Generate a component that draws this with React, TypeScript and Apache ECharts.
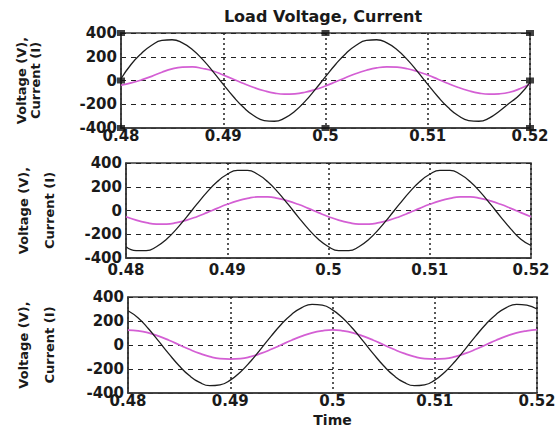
import React, { useEffect, useRef } from "react";
import * as echarts from "echarts";

// Time samples (s)
const time = [
  0.48, 0.481, 0.482, 0.483, 0.484, 0.485, 0.486, 0.487, 0.488, 0.489,
  0.49, 0.491, 0.492, 0.493, 0.494, 0.495, 0.496, 0.497, 0.498, 0.499,
  0.5, 0.501, 0.502, 0.503, 0.504, 0.505, 0.506, 0.507, 0.508, 0.509,
  0.51, 0.511, 0.512, 0.513, 0.514, 0.515, 0.516, 0.517, 0.518, 0.519, 0.52,
];

// Panel 1
const voltage1 = [
  15, 137, 228, 297, 337, 343, 317, 259, 176, 75,
  -32, -137, -228, -297, -337, -343, -317, -259, -176, -75,
  32, 137, 228, 297, 337, 343, 317, 259, 176, 75,
  -32, -137, -228, -297, -337, -343, -317, -259, -190, -120, -15,
];
const current1 = [
  -40, -20, 5, 35, 70, 98, 112, 114, 101, 80,
  46, 11, -25, -59, -86, -106, -115, -112, -99, -76,
  -46, -11, 25, 59, 86, 106, 115, 112, 99, 76,
  46, 11, -25, -59, -86, -106, -115, -112, -99, -70, -30,
];

// Panel 2
const voltage2 = [
  -305, -338, -338, -305, -242, -155, -53, 53, 155, 242,
  305, 338, 338, 305, 242, 155, 53, -53, -155, -242,
  -305, -338, -338, -305, -242, -155, -53, 53, 155, 242,
  305, 338, 338, 305, 242, 155, 53, -53, -155, -242, -295,
];
const current2 = [
  -52, -81, -102, -114, -114, -102, -81, -52, -18, 18,
  52, 81, 102, 114, 114, 102, 81, 52, 18, -18,
  -52, -81, -102, -114, -114, -102, -81, -52, -18, 18,
  52, 81, 102, 114, 114, 102, 81, 52, 18, -18, -52,
];

// Panel 3
const voltage3 = [
  285, 225, 135, 32, -74, -173, -255, -312, -339, -332,
  -293, -225, -135, -32, 74, 173, 255, 312, 339, 332,
  293, 225, 135, 32, -74, -173, -255, -312, -339, -332,
  -293, -225, -135, -32, 74, 173, 255, 312, 339, 332, 300,
];
const current3 = [
  124, 118, 101, 74, 40, 2, -36, -70, -97, -114,
  -118, -114, -97, -70, -36, 2, 40, 74, 101, 118,
  126, 118, 101, 74, 40, 2, -36, -70, -97, -114,
  -118, -114, -97, -70, -36, 2, 40, 74, 101, 118, 128,
];

// Selection handles drawn on the first panel
const handleX = [0.48, 0.48, 0.48, 0.5, 0.5, 0.52, 0.52, 0.52];
const handleY = [400, 0, -400, 400, -400, 400, 0, -400];

const yTicks = { min: -400, max: 400, interval: 200 };
const xTicks = { min: 0.48, max: 0.52, interval: 0.01 };

const titleText = "Load Voltage, Current";
const yName = "Voltage (V),\nCurrent (I)";
const xName = "Time";

const FONT = "DejaVu Sans";

export default function App() {
  const ref = useRef<HTMLDivElement>(null);

  useEffect(() => {
    if (!ref.current) return;
    const chart = echarts.init(ref.current, undefined, { renderer: "svg" });

    const grids = [
      { left: 121, top: 33, width: 409, height: 95 },
      { left: 126, top: 163, width: 405, height: 95 },
      { left: 128, top: 297, width: 409, height: 96 },
    ];
    const nameGaps = [79, 64, 66];
    const nameLH = [14, 26, 26];
    const xLabelMargins = [0, 4, 0];

    const pair = (ys: number[]) => time.map((t, i) => [t, ys[i]]);
    const panels = [
      [voltage1, current1],
      [voltage2, current2],
      [voltage3, current3],
    ];

    const series: any[] = [];
    panels.forEach(([v, c], i) => {
      series.push({
        type: "line",
        xAxisIndex: i,
        yAxisIndex: i,
        data: pair(v),
        smooth: true,
        showSymbol: false,
        lineStyle: { color: "#1e1e1e", width: 1.3 },
        z: 3,
      });
      series.push({
        type: "line",
        xAxisIndex: i,
        yAxisIndex: i,
        data: pair(c),
        smooth: true,
        showSymbol: false,
        lineStyle: { color: "#d45fd4", width: 1.7 },
        z: 2,
      });
    });
    series.push({
      type: "scatter",
      xAxisIndex: 0,
      yAxisIndex: 0,
      data: handleX.map((x, i) => [x, handleY[i]]),
      symbol: "rect",
      symbolSize: [8, 6],
      itemStyle: { color: "#111" },
      z: 10,
    });

    chart.setOption({
      animation: false,
      backgroundColor: "#fff",
      graphic: [
        {
          type: "text",
          x: 323,
          y: 16,
          style: {
            text: titleText,
            fontFamily: FONT,
            fontSize: 16,
            fontWeight: "bold",
            fill: "#1a1a1a",
            textAlign: "center",
            textVerticalAlign: "middle",
          },
        },
      ],
      grid: grids.map((g) => ({
        ...g,
        show: true,
        borderColor: "#3a3a3a",
        borderWidth: 1.5,
        backgroundColor: "transparent",
      })),
      xAxis: grids.map((_, i) => ({
        type: "value",
        gridIndex: i,
        min: xTicks.min,
        max: xTicks.max,
        interval: xTicks.interval,
        name: i === 2 ? xName : "",
        nameLocation: "middle",
        nameGap: 20,
        nameTextStyle: {
          fontFamily: FONT,
          fontSize: 14,
          fontWeight: "bold",
          color: "#1a1a1a",
        },
        axisLine: {
          show: true,
          onZero: false,
          lineStyle: { color: "#3a3a3a", width: 1.5 },
        },
        axisTick: { show: false },
        axisLabel: {
          fontFamily: FONT,
          fontSize: 15,
          fontWeight: "bold",
          color: "#1a1a1a",
          margin: xLabelMargins[i],
          formatter: (v: number) => String(parseFloat(v.toFixed(3))),
        },
        splitLine: {
          show: true,
          lineStyle: { color: "#222", width: 1.5, type: [2, 3] },
        },
      })),
      yAxis: grids.map((_, i) => ({
        type: "value",
        gridIndex: i,
        min: yTicks.min,
        max: yTicks.max,
        interval: yTicks.interval,
        name: yName,
        nameLocation: "middle",
        nameRotate: 90,
        nameGap: nameGaps[i],
        nameTextStyle: {
          fontFamily: FONT,
          fontSize: 13,
          fontWeight: "bold",
          lineHeight: nameLH[i],
          color: "#1a1a1a",
          align: "center",
        },
        axisLine: {
          show: true,
          onZero: false,
          lineStyle: { color: "#3a3a3a", width: 1.5 },
        },
        axisTick: { show: false },
        axisLabel: {
          fontFamily: FONT,
          fontSize: 15,
          fontWeight: "bold",
          color: "#1a1a1a",
          margin: 4,
        },
        splitLine: {
          show: true,
          lineStyle: { color: "#222", width: 1.2, type: [5, 5] },
        },
      })),
      series,
    });

    return () => chart.dispose();
  }, []);

  return (
    <div
      ref={ref}
      style={{ position: "absolute", left: 0, top: 0, width: 560, height: 432 }}
    />
  );
}
